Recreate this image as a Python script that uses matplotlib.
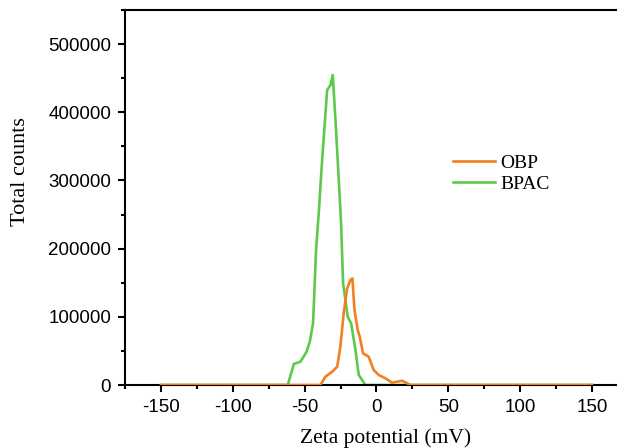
import numpy as np
import matplotlib.pyplot as plt
from matplotlib.ticker import MultipleLocator

plt.rcParams['axes.unicode_minus'] = False

# zeta potential (mV) and total counts
obp_x = [-150, -39.0, -35.5, -30.8, -27.3, -25.1, -22.8, -20.4, -18.1, -16.7, -15.3,
         -13.0, -11.6, -9.3, -5.4, -1.9, 1.6, 6.3, 10.9, 17.9, 23.7, 150]
obp_y = [0, 0, 12200, 19500, 26800, 56200, 105000, 141800, 154000, 156400, 110000,
         80600, 70800, 46500, 41500, 22000, 14700, 9800, 3400, 6300, 0, 0]

bpac_x = [-150, -61.7, -57.5, -52.9, -48.7, -46.4, -44.1, -42.0, -40.1, -37.8, -34.3,
          -32.0, -30.4, -28.5, -26.2, -24.6, -23.2, -20.0, -17.6, -14.6, -12.3, -7.7, 150]
bpac_y = [0, 0, 30800, 34200, 48400, 63500, 90400, 198000, 254000, 330000, 432600,
          440000, 454500, 388500, 300600, 237000, 149000, 100000, 90400, 51300, 14700, 0, 0]

fig = plt.figure(figsize=(6.17, 4.48), dpi=100)
ax = fig.add_axes([0.2026, 0.1406, 0.815, 0.837])

l_bpac, = ax.plot(bpac_x, bpac_y, color='#5cc94a', lw=1.9, zorder=2)
l_obp, = ax.plot(obp_x, obp_y, color='#f2801f', lw=1.9, zorder=3)

ax.set_xlim(-175, 175)
ax.set_ylim(0, 550000)
ax.xaxis.set_major_locator(MultipleLocator(50))
ax.xaxis.set_minor_locator(MultipleLocator(25))
ax.yaxis.set_major_locator(MultipleLocator(100000))
ax.yaxis.set_minor_locator(MultipleLocator(50000))
ax.tick_params(which='major', direction='out', length=5, width=1.5, labelsize=13.5, pad=5)
ax.tick_params(which='minor', direction='out', length=3, width=1.5)

for sp in ax.spines.values():
    sp.set_linewidth(1.5)

for lab in ax.get_xticklabels() + ax.get_yticklabels():
    lab.set_fontfamily('Liberation Sans')

ax.set_xlabel('Zeta potential (mV)', fontfamily='Liberation Serif', fontsize=15.5)
ax.set_ylabel('Total counts', fontfamily='Liberation Serif', fontsize=16)
ax.xaxis.set_label_coords(0.518, -0.115)
ax.yaxis.set_label_coords(-0.188, 0.57)

ax.legend([l_obp, l_bpac], ['OBP', 'BPAC'], loc='upper left', bbox_to_anchor=(0.636, 0.635),
          frameon=False, prop={'family': 'Liberation Serif', 'size': 14},
          handlelength=2.2, handletextpad=0.25, labelspacing=0.15, borderaxespad=0)

fig.savefig('out.png', dpi=100)
